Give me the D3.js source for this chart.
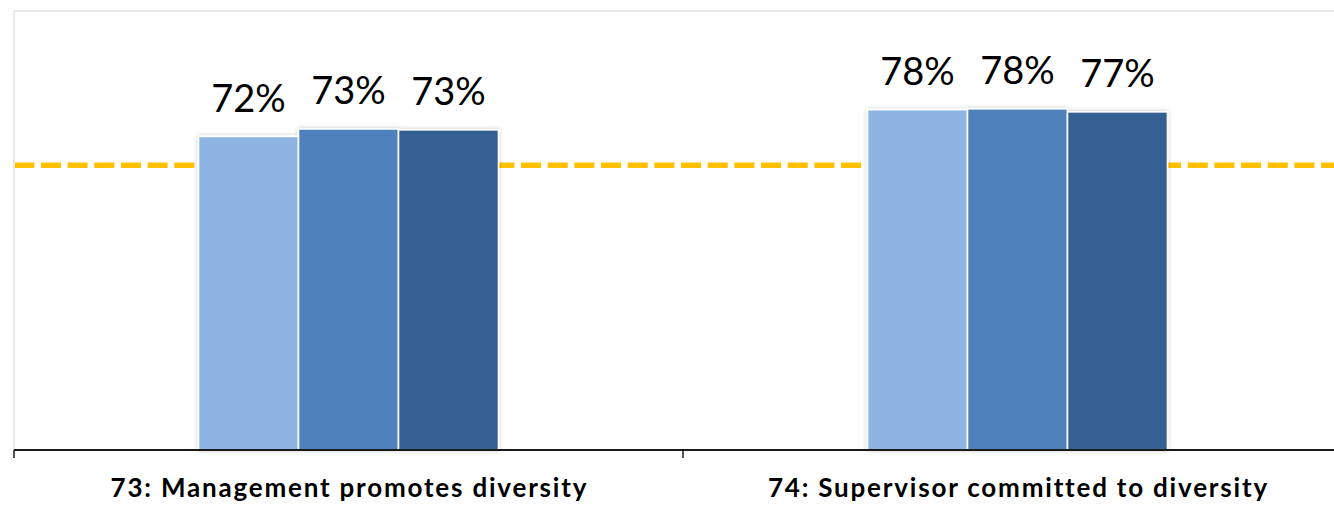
<!DOCTYPE html>
<html>
<head>
<meta charset="utf-8">
<script src="https://cdn.jsdelivr.net/npm/d3@7"></script>
<style>
  html, body { margin: 0; padding: 0; background: #ffffff; }
  svg { display: block; }
</style>
</head>
<body>
<svg id="chart" width="1334" height="507"></svg>
<script>
// Survey items shown on the x axis
const categories = ["73: Management promotes diversity", "74: Supervisor committed to diversity"];
// Three survey waves, percent positive per item
const seriesNames = ["Wave 1", "Wave 2", "Wave 3"];
const seriesValues = [
  [71.6, 73.3, 73.1],
  [77.7, 77.9, 77.2]
];
const seriesColors = ["#8EB4E3", "#4F81BD", "#366092"];
// Benchmark drawn as a dashed reference line
const benchmark = 65;
const yDomain = [0, 100];

const width = 1334, height = 507;
const plot = { left: 14, top: 11, right: 1352, bottom: 450 };

const svg = d3.select("#chart");

const x0 = d3.scaleBand()
  .domain(categories)
  .range([plot.left, plot.right])
  .paddingInner(0.5516)
  .paddingOuter(0.2758);

const x1 = d3.scaleBand()
  .domain(seriesNames)
  .range([0, x0.bandwidth()]);

const y = d3.scaleLinear().domain(yDomain).range([plot.bottom, plot.top + 1]);

// soft shadow under the bars
const defs = svg.append("defs");
const f = defs.append("filter").attr("id", "barShadow")
  .attr("x", "-20%").attr("y", "-20%").attr("width", "140%").attr("height", "140%");
f.append("feDropShadow").attr("dx", 0).attr("dy", 0).attr("stdDeviation", 2.2)
  .attr("flood-color", "#000").attr("flood-opacity", 0.22);

// plot-area frame (top and left edges visible)
svg.append("path")
  .attr("d", `M${plot.left},${plot.bottom} V${plot.top} H${width + 5}`)
  .attr("fill", "none")
  .attr("stroke", "#e3e3e3")
  .attr("stroke-width", 1.5);

// benchmark line
svg.append("line")
  .attr("x1", plot.left + 1).attr("x2", width)
  .attr("y1", y(benchmark)).attr("y2", y(benchmark))
  .attr("stroke", "#FFC000")
  .attr("stroke-width", 5.5)
  .attr("stroke-dasharray", "20 6.67")
  .attr("stroke-dashoffset", 0.7);

// bars
const groups = svg.append("g")
  .selectAll("g")
  .data(categories)
  .join("g")
  .attr("transform", c => `translate(${x0(c)},0)`);

groups.append("g")
  .attr("filter", "url(#barShadow)")
  .selectAll("rect")
  .data((c, i) => seriesNames.map((s, j) => ({ s, v: seriesValues[i][j], j })))
  .join("rect")
  .attr("x", d => x1(d.s))
  .attr("y", d => y(d.v))
  .attr("width", x1.bandwidth())
  .attr("height", d => y(0) - y(d.v))
  .attr("fill", d => seriesColors[d.j])
  .attr("stroke", "#ffffff")
  .attr("stroke-width", 1.6);

// value labels
groups.selectAll("text.val")
  .data((c, i) => seriesNames.map((s, j) => ({ s, v: seriesValues[i][j] })))
  .join("text")
  .attr("class", "val")
  .attr("x", d => x1(d.s) + x1.bandwidth() / 2)
  .attr("y", d => y(d.v) - 24.5)
  .attr("text-anchor", "middle")
  .attr("font-family", "Lato, 'Open Sans', sans-serif")
  .attr("font-size", 38)
  .attr("fill", "#000")
  .text(d => Math.round(d.v) + "%");

// category axis with ticks on band boundaries
const boundaries = categories.map(c => x0(c) - x0.step() * x0.paddingInner() / 2)
  .concat([x0(categories[categories.length - 1]) + x0.bandwidth() + x0.step() * x0.paddingInner() / 2]);

const axis = svg.append("g");
axis.append("line")
  .attr("x1", plot.left).attr("x2", width + 5)
  .attr("y1", plot.bottom).attr("y2", plot.bottom)
  .attr("stroke", "#1a1a1a").attr("stroke-width", 2);
axis.selectAll("line.tick")
  .data(boundaries)
  .join("line")
  .attr("class", "tick")
  .attr("x1", d => d).attr("x2", d => d)
  .attr("y1", plot.bottom).attr("y2", plot.bottom + 8)
  .attr("stroke", "#1a1a1a").attr("stroke-width", 1.5);

axis.selectAll("text.cat")
  .data(categories)
  .join("text")
  .attr("class", "cat")
  .attr("x", c => x0(c) + x0.bandwidth() / 2 + 0.9)
  .attr("y", 497)
  .attr("text-anchor", "middle")
  .attr("font-family", "Lato, 'Open Sans', sans-serif")
  .attr("font-weight", "bold")
  .attr("font-size", 26)
  .attr("letter-spacing", 1.8)
  .attr("fill", "#000")
  .text(c => c);
</script>
</body>
</html>
